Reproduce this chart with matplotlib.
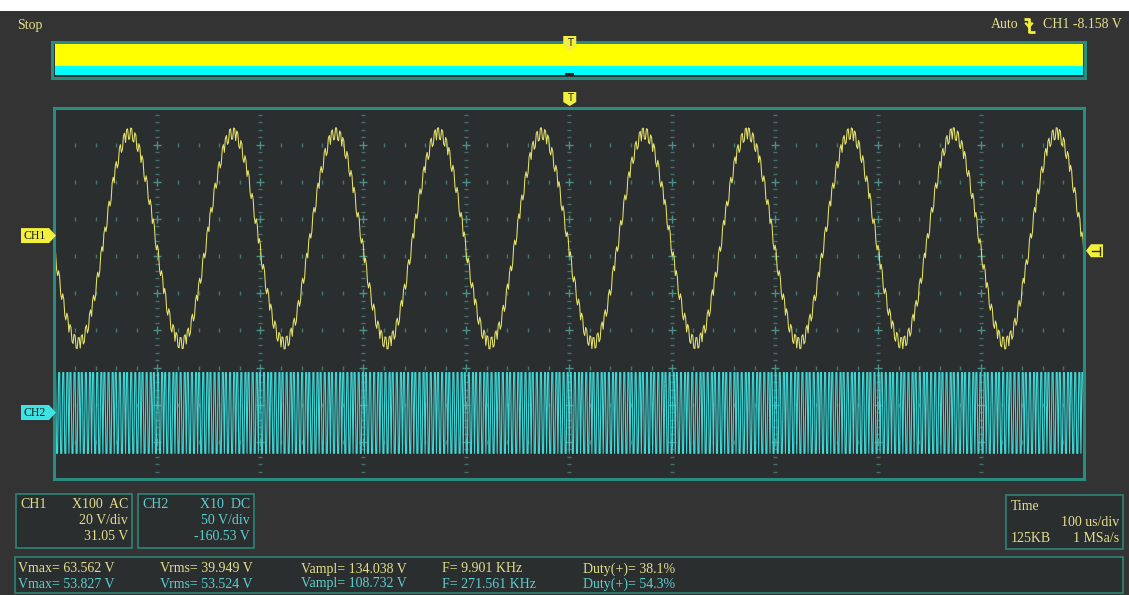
import numpy as np
import matplotlib
import matplotlib.pyplot as plt
from matplotlib.patches import Polygon, Rectangle

# Acquisition settings
time_div_us = 100
sample_rate_msa = 1.0
n_div_x = 10
n_div_y = 10
trig_time_us = 500
trig_level_v = -8.158

# CH1: sine with ripple coupled from CH2
ch1_volt_div = 20
ch1_offset_v = 31.05
ch1_freq_khz = 10.0
ch1_peak_v = 58.0
ch1_trough_v = -61.0
ch1_ripple_v = 3.0

# CH2: square wave
ch2_volt_div = 50
ch2_offset_v = -160.53
ch2_freq_khz = 271.561
ch2_vmax_v = 53.827
ch2_vampl_v = 108.732
ch2_duty = 0.543

# Text of the info boxes
ch1_info = ["CH1", "X100  AC", "20 V/div", "31.05 V"]
ch2_info = ["CH2", "X10  DC", "50 V/div", "-160.53 V"]
time_info = ["Time", "100 us/div", "125KB", "1 MSa/s"]
meas_ch1 = ["Vmax= 63.562 V", "Vrms= 39.949 V", "Vampl= 134.038 V", "F= 9.901 KHz", "Duty(+)= 38.1%"]
meas_ch2 = ["Vmax= 53.827 V", "Vrms= 53.524 V", "Vampl= 108.732 V", "F= 271.561 KHz", "Duty(+)= 54.3%"]
meas_x = [18, 160, 301, 442, 583]

BG = '#333333'
SCREEN = '#2b2e2e'
TEAL = '#2a8c7e'
BOXEDGE = '#2f7d72'
GRID = '#4a8f88'
YEL_TXT = '#e2e08c'
CYA_TXT = '#5ccfcf'
YEL_TRACE = '#e6e46a'
CYA_TRACE = '#3fd8d8'
YEL_MARK = '#f2f03c'
CYA_MARK = '#3ee4e4'
FONT = 'Liberation Serif'
FS = 10

# samples at 1 MSa/s over the whole screen
t = np.arange(0, time_div_us * n_div_x + 1, 1 / sample_rate_msa)

ph2 = (t * ch2_freq_khz / 1000.0) % 1.0
sq2 = (ph2 < ch2_duty).astype(float)
ch2_v = ch2_vmax_v - ch2_vampl_v * (1 - sq2)
ch2_div = (ch2_offset_v + ch2_v) / ch2_volt_div

c1 = (ch1_peak_v + ch1_trough_v) / 2
a1 = (ch1_peak_v - ch1_trough_v) / 2 - ch1_ripple_v
# phase so that the falling edge crosses the trigger level at trig_time_us
th_tr = np.arcsin((c1 - trig_level_v) / a1)
th = th_tr + 2 * np.pi * ch1_freq_khz / 1000.0 * (t - trig_time_us)
ch1_v = c1 - a1 * np.sin(th) + ch1_ripple_v * (2 * sq2 - 1)
ch1_div = (ch1_offset_v + ch1_v) / ch1_volt_div

fig = plt.figure(figsize=(11.29, 5.95), dpi=100, facecolor=BG)

# scope screen
ax = fig.add_axes([54.5 / 1129, 1 - 479 / 595, 1029.5 / 1129, 371.5 / 595], zorder=2)
ax.set_facecolor(SCREEN)
ax.set_xlim(0, time_div_us * n_div_x)
ax.set_ylim(-n_div_y / 2, n_div_y / 2)
ax.set_xticks([])
ax.set_yticks([])
for s in ax.spines.values():
	s.set_color(TEAL)
	s.set_linewidth(2.2)

minor_x = np.arange(0, time_div_us * n_div_x + 1, time_div_us / 5)
major_x = np.arange(time_div_us, time_div_us * n_div_x, time_div_us)
minor_y = np.round(np.arange(-n_div_y / 2, n_div_y / 2 + 0.01, 0.2), 1)
major_y = np.arange(-n_div_y / 2 + 1, n_div_y / 2)

for y in major_y:
	xs = [x for x in minor_x if x % time_div_us != 0]
	ax.plot(xs, [y] * len(xs), ls='none', marker='|', ms=2.5, mew=1, color=GRID, alpha=0.75)
for x in major_x:
	ys = [y for y in minor_y if abs(y - round(y)) > 0.01]
	ax.plot([x] * len(ys), ys, ls='none', marker='_', ms=3, mew=1, color=GRID, alpha=0.7)
	ax.plot([x] * len(major_y), major_y, ls='none', marker='+', ms=6, mew=1, color=GRID)

ax.plot(t, ch2_div, color=CYA_TRACE, lw=0.8)
ax.plot(t, ch1_div, color=YEL_TRACE, lw=0.75)

# overlay in pixel coordinates for the scope decorations
px = fig.add_axes([0, 0, 1, 1], zorder=3)
px.set_facecolor('none')
px.set_xlim(0, 1129)
px.set_ylim(595, 0)
px.axis('off')

def to_px(tt, dd):
	disp = ax.transData.transform((tt, dd))
	return px.transData.inverted().transform(disp)

px.add_patch(Rectangle((0, 0), 1129, 11, color='white', lw=0))

px.text(17, 25, "Stop", color=YEL_TXT, family=FONT, fontsize=FS, va='center')
px.text(1122, 25, "CH1 -8.158 V", color=YEL_TXT, family=FONT, fontsize=FS, va='center', ha='right')
px.text(1018, 25, "Auto", color=YEL_TXT, family=FONT, fontsize=FS, va='center', ha='right')
# falling edge trigger symbol
px.plot([1024, 1029, 1029, 1035], [18.5, 18.5, 31.5, 31.5], color=YEL_MARK, lw=2, solid_capstyle='butt')
px.plot([1026, 1029, 1032], [23.5, 27, 23.5], color=YEL_MARK, lw=1.6)

# memory overview bar
px.add_patch(Rectangle((52, 41.5), 1033, 36.5, fill=False, ec=TEAL, lw=2.2))
px.add_patch(Rectangle((54.5, 44), 1028.5, 21.5, color='#ffff00', lw=0))
px.add_patch(Rectangle((54.5, 65.5), 1028.5, 9.5, color='#00ffff', lw=0))
tx, _ = to_px(trig_time_us, 0)
px.add_patch(Rectangle((tx - 4.5, 73), 9, 3, color='#222222', lw=0))
px.add_patch(Polygon([(tx - 6, 36), (tx + 7, 36), (tx + 7, 47), (tx + 0.5, 51), (tx - 6, 47)], color=YEL_MARK, lw=0))
px.text(tx + 0.5, 42.5, "T", color='#222222', family='DejaVu Sans', fontsize=7, ha='center', va='center')

# trigger position marker
px.add_patch(Polygon([(tx - 6, 92), (tx + 7, 92), (tx + 7, 102), (tx + 0.5, 106), (tx - 6, 102)], color=YEL_MARK, lw=0))
px.text(tx + 0.5, 98, "T", color='#222222', family='DejaVu Sans', fontsize=7, ha='center', va='center')

# channel ground markers
_, y1 = to_px(0, ch1_offset_v / ch1_volt_div)
_, y2 = to_px(0, ch2_offset_v / ch2_volt_div)
for yy, col, name in [(y1, YEL_MARK, "CH1"), (y2, CYA_MARK, "CH2")]:
	px.add_patch(Polygon([(21, yy - 7.5), (49, yy - 7.5), (56, yy), (49, yy + 7.5), (21, yy + 7.5)], color=col, lw=0))
	px.text(24, yy + 0.5, name, color='#1a1a1a', family=FONT, fontsize=8.5, va='center')

# trigger level marker
_, yt = to_px(0, (ch1_offset_v + trig_level_v) / ch1_volt_div)
px.add_patch(Polygon([(1086, yt), (1091, yt - 6.5), (1103, yt - 6.5), (1103, yt + 6.5), (1091, yt + 6.5)], color=YEL_MARK, lw=0))
px.plot([1092, 1099.5], [yt, yt], color='#333311', lw=1)
px.plot([1099.5, 1099.5], [yt - 4, yt + 4], color='#333311', lw=1)

# channel boxes
def info_box(x0, w, lines, col):
	px.add_patch(Rectangle((x0, 494), w, 54, fc=SCREEN, ec=BOXEDGE, lw=1.3))
	px.text(x0 + 5, 505, lines[0], color=col, family=FONT, fontsize=FS, va='center')
	px.text(x0 + w - 4, 505, lines[1], color=col, family=FONT, fontsize=FS, va='center', ha='right')
	px.text(x0 + w - 4, 520, lines[2], color=col, family=FONT, fontsize=FS, va='center', ha='right')
	px.text(x0 + w - 4, 536, lines[3], color=col, family=FONT, fontsize=FS, va='center', ha='right')

info_box(15.5, 116.5, ch1_info, YEL_TXT)
info_box(137.5, 116.5, ch2_info, CYA_TXT)

px.add_patch(Rectangle((1006, 494.5), 117, 54, fc=SCREEN, ec=BOXEDGE, lw=1.3))
px.text(1011, 506, time_info[0], color=YEL_TXT, family=FONT, fontsize=FS, va='center')
px.text(1119, 522, time_info[1], color=YEL_TXT, family=FONT, fontsize=FS, va='center', ha='right')
px.text(1011, 538, time_info[2], color=YEL_TXT, family=FONT, fontsize=FS, va='center')
px.text(1119, 538, time_info[3], color=YEL_TXT, family=FONT, fontsize=FS, va='center', ha='right')

# measurement box
px.add_patch(Rectangle((15, 557), 1108, 36, fc=SCREEN, ec=BOXEDGE, lw=1.3))
for xx, s1, s2 in zip(meas_x, meas_ch1, meas_ch2):
	px.text(xx, 569, s1, color=YEL_TXT, family=FONT, fontsize=FS, va='center')
	px.text(xx, 584, s2, color=CYA_TXT, family=FONT, fontsize=FS, va='center')

plt.savefig('out.png', dpi=100, facecolor=BG)
